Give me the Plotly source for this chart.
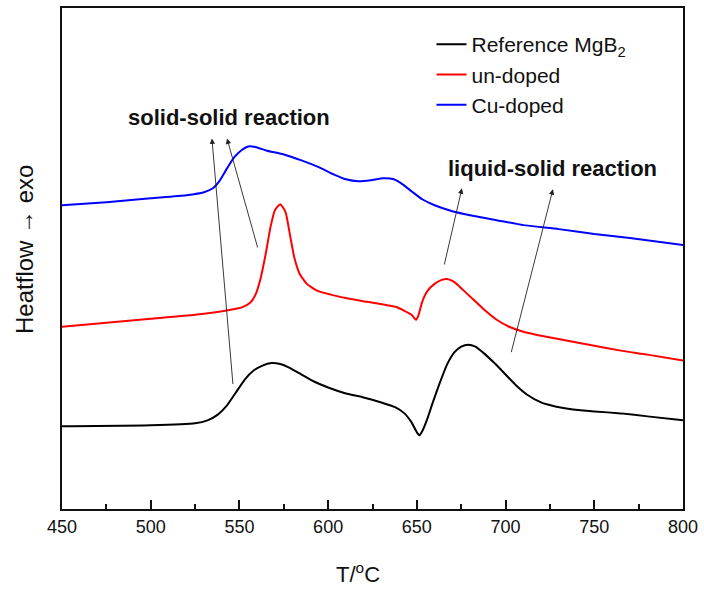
import plotly.graph_objects as go

# Temperature (°C) and heat flow (arbitrary units, exo up)
t_ref = [450, 500, 525, 532, 538, 543, 548, 553, 558, 563, 568, 573, 578, 585, 592, 600, 610, 620, 630, 638, 643, 647, 650, 651.5, 653, 656, 659, 663, 667, 671, 675, 679, 683, 688, 694, 700, 706, 712, 720, 728, 738, 750, 765, 780, 800]
hf_ref = [83, 84, 86, 89, 95, 104, 117, 130, 139, 144, 146.5, 145.5, 142, 135, 128, 122, 116, 112, 107, 102, 96, 87, 77, 74, 78, 91, 107, 127, 145, 157, 163, 165, 163, 156, 146, 135, 124, 115, 107, 103, 100, 98, 96, 93, 89]

t_und = [450, 475, 500, 525, 545, 552, 556, 559, 562, 565, 567.5, 570, 573, 576, 578.5, 581, 584, 588, 594, 602, 612, 622, 632, 638, 643, 647, 649.5, 651, 653, 656, 660, 664, 667, 671, 676, 682, 688, 695, 702, 710, 720, 735, 750, 765, 780, 800]
hf_und = [183, 187, 191, 195, 200, 203, 207, 215, 232, 258, 283, 300, 306, 298, 275, 252, 236, 226, 219, 215, 211, 208, 205, 203, 199, 195, 190, 195, 208, 219, 226, 230, 231, 228, 220, 210, 200, 190, 183, 178, 174, 169, 164, 159, 155, 149]

t_cu = [450, 475, 500, 520, 530, 535, 539, 543, 547, 551, 555, 559, 565, 575, 585, 595, 603, 610, 617, 624, 631, 637, 642, 647, 653, 660, 670, 680, 695, 710, 730, 750, 770, 800]
hf_cu = [305, 308, 312, 315, 318, 322, 330, 342, 353, 360, 364, 363.5, 360, 356, 350, 343, 336, 331, 329, 330, 332, 331, 326, 319, 311, 305, 299, 295, 290, 285, 281, 276, 272, 265]

series_names = ["Reference MgB<sub>2</sub>", "un-doped", "Cu-doped"]
series_colors = ["#000000", "#ff0000", "#0000ff"]

x_ticks = [450, 500, 550, 600, 650, 700, 750, 800]

FONT = "Arial, Liberation Sans, sans-serif"

fig = go.Figure()
for t, hf, name, col in zip([t_ref, t_und, t_cu], [hf_ref, hf_und, hf_cu], series_names, series_colors):
    fig.add_trace(go.Scatter(x=t, y=hf, mode="lines", name=name,
                             line=dict(color=col, width=2, shape="spline", smoothing=0.5)))

# arrows: (head T, head y, tail T, tail y)
arrows = [(534.5, 372, 546.4, 124), (543, 372, 560.5, 261),
          (675.4, 322, 665.3, 244), (726.7, 321, 703, 156)]
for hx, hy, tx, ty in arrows:
    fig.add_annotation(x=hx, y=hy, ax=tx, ay=ty, xref="x", yref="y", axref="x", ayref="y",
                       text="", showarrow=True, arrowhead=2, arrowsize=1.2, arrowwidth=0.9,
                       arrowcolor="#222222")

fig.add_annotation(x=544, y=393, text="<b>solid-solid reaction</b>", showarrow=False,
                   font=dict(family=FONT, size=22, color="#111111"))
fig.add_annotation(x=726.5, y=342, text="<b>liquid-solid reaction</b>", showarrow=False,
                   font=dict(family=FONT, size=22, color="#111111"))

# axis titles
fig.add_annotation(x=0.477, y=-0.127, xref="paper", yref="paper", showarrow=False,
                   xanchor="center", yanchor="middle",
                   text="T/<sup>o</sup>C", font=dict(family=FONT, size=22, color="#111111"))
fig.add_annotation(x=-0.0596, y=0.519, xref="paper", yref="paper", showarrow=False, textangle=-90,
                   xanchor="center", yanchor="middle",
                   text="Heatflow \u2192 exo", font=dict(family=FONT, size=24, color="#111111"))

fig.update_layout(
    width=704, height=597,
    margin=dict(l=62, r=21, t=6, b=88),
    paper_bgcolor="white", plot_bgcolor="white",
    font=dict(family=FONT, size=16, color="#111111"),
    showlegend=True,
    legend=dict(x=0.595, y=0.968, xanchor="left", yanchor="top",
                bgcolor="rgba(0,0,0,0)", font=dict(family=FONT, size=21, color="#111111"),
                tracegroupgap=0, itemwidth=30),
)
fig.update_xaxes(range=[450, 800], tickvals=x_ticks, ticks="inside", ticklen=9, tickwidth=2,
                 tickcolor="#111111", showline=True, linecolor="#111111", linewidth=2,
                 mirror=True, showgrid=False, zeroline=False,
                 tickfont=dict(family=FONT, size=18, color="#111111"),
                 minor=dict(dtick=25, ticks="inside", ticklen=5, tickwidth=2, tickcolor="#111111"))
fig.update_yaxes(range=[0, 503], showticklabels=False, ticks="", showline=True,
                 linecolor="#111111", linewidth=2, mirror=True, showgrid=False, zeroline=False)

fig.write_html("out.html")
